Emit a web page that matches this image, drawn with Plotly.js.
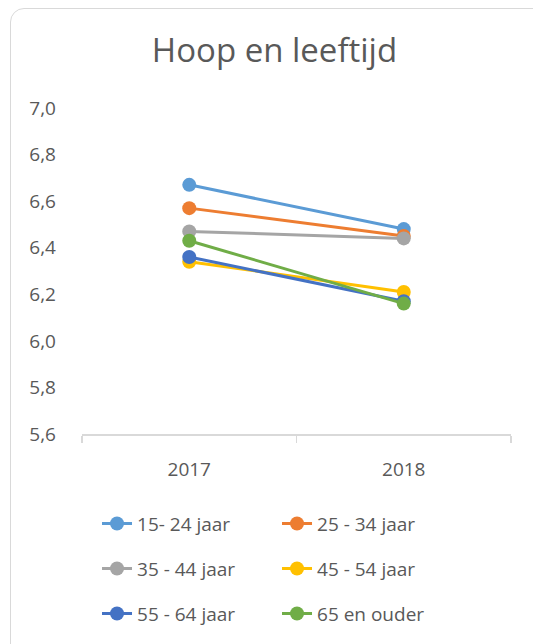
<!DOCTYPE html>
<html>
<head>
<meta charset="utf-8">
<script src="https://cdn.plot.ly/plotly-3.0.1.min.js"></script>
<style>
  html, body { margin: 0; padding: 0; background: #ffffff; overflow: hidden; }
  #chart { position: absolute; left: 0; top: 0; width: 533px; height: 644px; }
  #frame { position: absolute; left: 10px; top: 8px; width: 540px; height: 660px;
           border: 1.5px solid #d9d9d9; border-radius: 14px; pointer-events: none; }
</style>
</head>
<body>
<div id="chart"></div>
<div id="frame"></div>
<script>
const years = ['2017', '2018'];
const seriesNames = ['15- 24 jaar', '25 - 34 jaar', '35 - 44 jaar', '45 - 54 jaar', '55 - 64 jaar', '65 en ouder'];
const v15_24 = [6.67, 6.48];
const v25_34 = [6.57, 6.45];
const v35_44 = [6.47, 6.44];
const v45_54 = [6.34, 6.21];
const v55_64 = [6.36, 6.17];
const v65plus = [6.43, 6.16];
const yTicks = [5.6, 5.8, 6.0, 6.2, 6.4, 6.6, 6.8, 7.0];

const seriesValues = [v15_24, v25_34, v35_44, v45_54, v55_64, v65plus];
const colors = ['#5B9BD5', '#ED7D31', '#A5A5A5', '#FFC000', '#4472C4', '#70AD47'];
const legendIds = ['legend', 'legend', 'legend2', 'legend2', 'legend3', 'legend3'];

const traces = seriesNames.map((name, i) => ({
  type: 'scatter',
  mode: 'lines+markers',
  name: name,
  x: years,
  y: seriesValues[i],
  line: { color: colors[i], width: 3 },
  marker: { color: colors[i], size: 14 },
  legend: legendIds[i],
  hoverinfo: 'skip'
}));

const legendFont = { family: 'Open Sans, sans-serif', size: 19, color: '#595959' };
function legendAt(yPos) {
  return {
    orientation: 'h', x: 0.035, xanchor: 'left', y: yPos, yanchor: 'middle',
    font: legendFont, entrywidth: 135, entrywidthmode: 'pixels',
    bgcolor: 'rgba(0,0,0,0)'
  };
}

const layout = {
  width: 533, height: 644,
  margin: { l: 82, r: 22, t: 108, b: 210, autoexpand: false },
  paper_bgcolor: '#ffffff', plot_bgcolor: '#ffffff',
  separators: ',.',
  title: {
    text: 'Hoop en leeftijd',
    font: { family: 'Open Sans, sans-serif', size: 33, color: '#595959' },
    x: 0.515, xanchor: 'center', y: 0.922, yanchor: 'middle'
  },
  xaxis: {
    type: 'category', range: [-0.5, 1.5],
    tickson: 'boundaries', ticks: 'outside', ticklen: 7, tickcolor: '#d9d9d9', tickwidth: 1.5,
    showline: true, linecolor: '#d9d9d9', linewidth: 1.5,
    showgrid: false, zeroline: false,
    tickfont: { family: 'Open Sans, sans-serif', size: 19, color: '#595959' },
    ticklabelstandoff: 18
  },
  yaxis: {
    range: [5.6, 7.0], tickvals: yTicks, tickformat: '.1f',
    showline: false, showgrid: false, zeroline: false, ticks: '',
    tickfont: { family: 'Open Sans, sans-serif', size: 19, color: '#595959' },
    ticklabelstandoff: 25
  },
  legend: legendAt(-0.275),
  legend2: legendAt(-0.413),
  legend3: legendAt(-0.551),
  showlegend: true
};

Plotly.newPlot('chart', traces, layout, { displayModeBar: false, staticPlot: true });
</script>
</body>
</html>
